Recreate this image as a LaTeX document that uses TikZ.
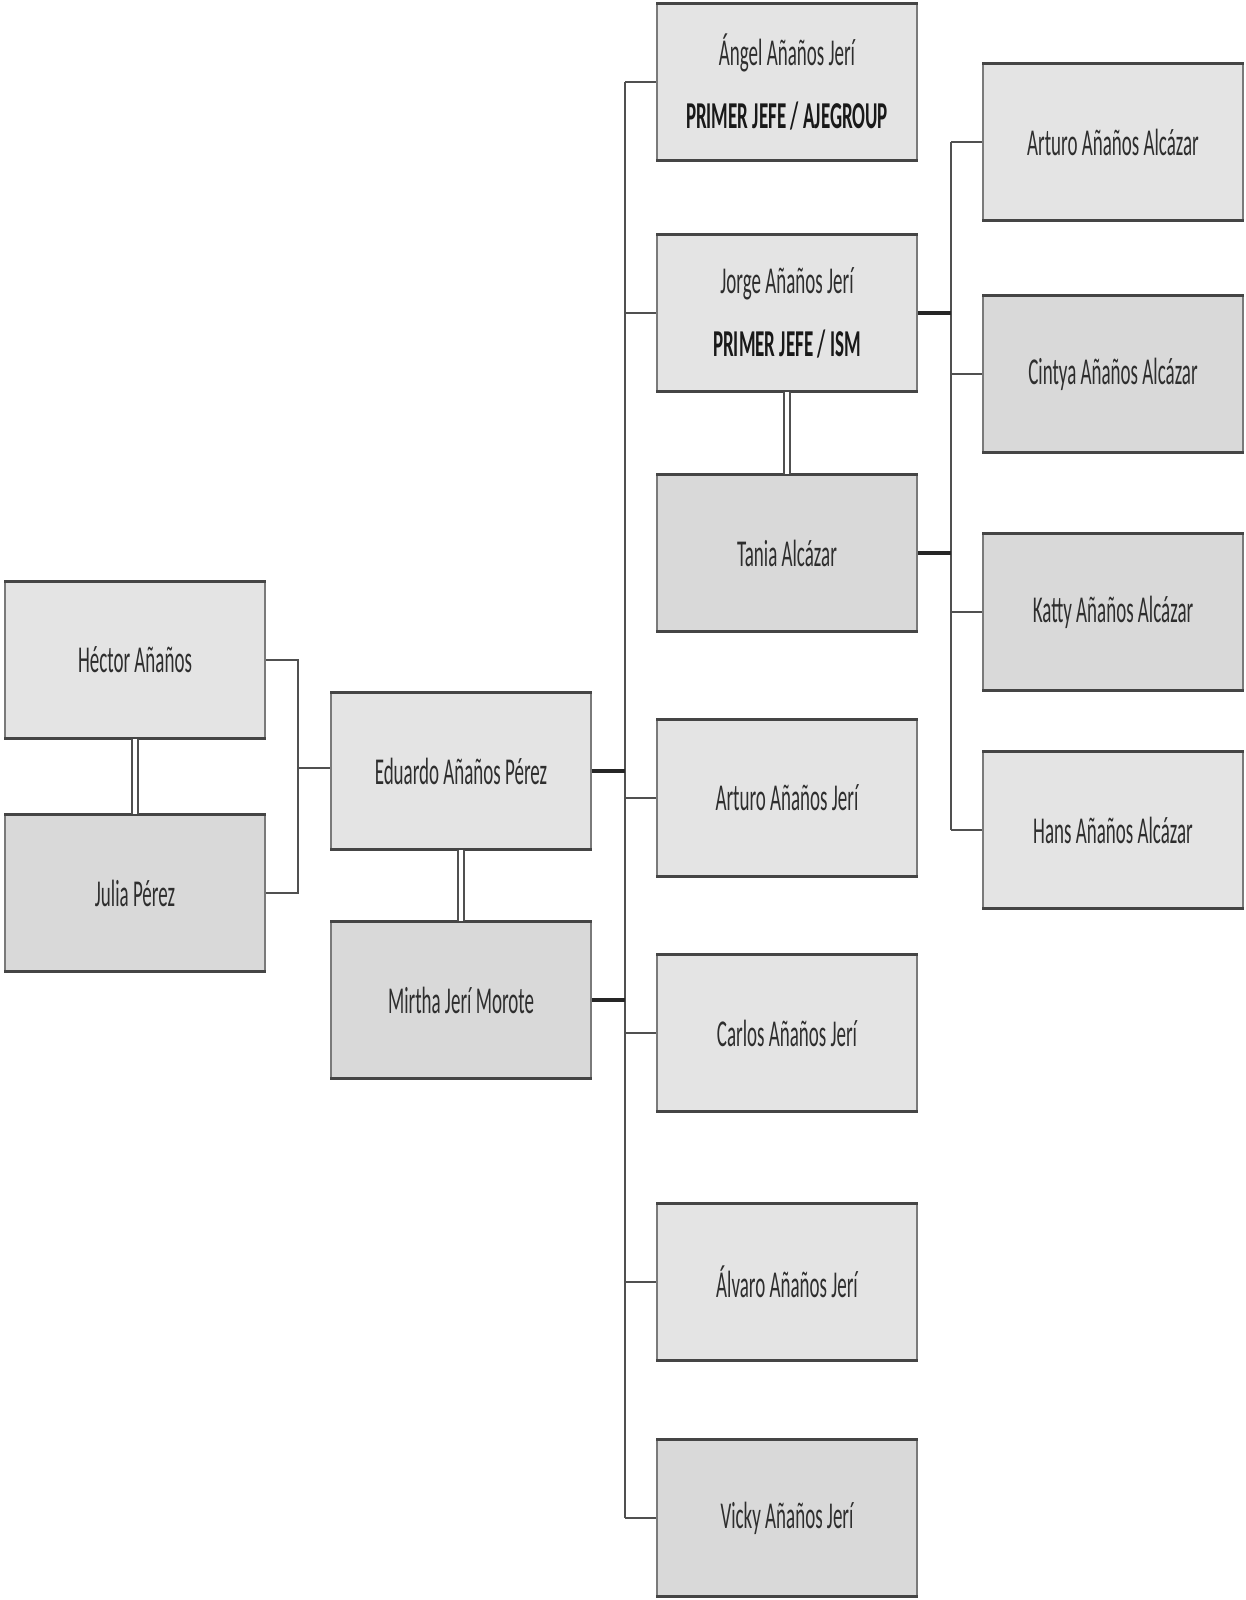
\documentclass[tikz,border=0pt]{standalone}
\usepackage{fontspec}
\setmainfont{Carlito}[FakeStretch=0.5]
\definecolor{boxlight}{HTML}{E4E4E4}
\definecolor{boxdark}{HTML}{D9D9D9}
\definecolor{edgecol}{HTML}{454545}
\definecolor{sidecol}{HTML}{7A7A7A}
\definecolor{txtcol}{HTML}{2E2E2E}
\definecolor{linecol}{HTML}{505050}
\begin{document}
\begin{tikzpicture}[x=0.01cm,y=-0.01cm,
  person/.style={rectangle, draw=sidecol, line width=0.45pt,
    minimum width=2.6cm, minimum height=1.56cm, inner sep=0pt,
    align=center, text=txtcol,
    font=\fontsize{10.8}{17}\selectfont},
  light/.style={person, fill=boxlight},
  dark/.style={person, fill=boxdark},
  rim/.style={draw=edgecol, line width=0.9pt},
  conn/.style={draw=linecol, line width=0.5pt},
  stub/.style={draw=black!85, line width=1.1pt},
  couple/.style={draw=linecol, line width=0.5pt, double=white, double distance=1.3pt}]
\useasboundingbox (0,0) rectangle (1246,1600);

% first generation
\node[light] (hector) at (135,660) {Héctor Añaños};
\node[dark]  (julia)  at (135,893) {Julia Pérez};

% second generation
\node[light] (eduardo) at (461,771) {Eduardo Añaños Pérez};
\node[dark]  (mirtha)  at (461,1000) {Mirtha Jerí Morote};

% third generation
\node[light] (angel)   at (787,82)   {Ángel Añaños Jerí\\[1pt]\textbf{\color{black!90}PRIMER JEFE / AJEGROUP}};
\node[light] (jorge)   at (787,313)  {Jorge Añaños Jerí\\[1pt]\textbf{\color{black!90}PRIMER JEFE / ISM}};
\node[dark]  (tania)   at (787,553)  {Tania Alcázar};
\node[light] (arturoj) at (787,798)  {Arturo Añaños Jerí};
\node[light] (carlos)  at (787,1033) {Carlos Añaños Jerí};
\node[light] (alvaro)  at (787,1282) {Álvaro Añaños Jerí};
\node[dark]  (vicky)   at (787,1518) {Vicky Añaños Jerí};

% fourth generation
\node[light] (arturoa) at (1113,142) {Arturo Añaños Alcázar};
\node[dark]  (cintya)  at (1113,374) {Cintya Añaños Alcázar};
\node[dark]  (katty)   at (1113,612) {Katty Añaños Alcázar};
\node[light] (hans)    at (1113,830) {Hans Añaños Alcázar};

% heavier top and bottom rims of every box
\foreach \n in {hector,julia,eduardo,mirtha,angel,jorge,tania,arturoj,carlos,alvaro,vicky,arturoa,cintya,katty,hans}{
  \draw[rim] (\n.north west) -- (\n.north east);
  \draw[rim] (\n.south west) -- (\n.south east);
}

% marriages
\draw[couple] (hector.south) -- (julia.north);
\draw[couple] (eduardo.south) -- (mirtha.north);
\draw[couple] (jorge.south) -- (tania.north);

% Héctor + Julia -> Eduardo
\coordinate (j1) at (298,768);
\draw[conn] (hector.east) -| (j1);
\draw[conn] (julia.east) -| (j1);
\draw[conn] (j1) -- (eduardo.west |- j1);

% Eduardo + Mirtha -> children
\coordinate (b2top) at (625,82);
\coordinate (b2bot) at (625,1518);
\draw[conn] (b2top) -- (b2bot);
\draw[stub] (eduardo.east) -- (eduardo.east -| b2top);
\draw[stub] (mirtha.east) -- (mirtha.east -| b2top);
\foreach \c in {angel,jorge,arturoj,carlos,alvaro,vicky}{
  \draw[conn] (\c.west -| b2top) -- (\c.west);
}

% Jorge + Tania -> children
\coordinate (b3top) at (951,142);
\coordinate (b3bot) at (951,830);
\draw[conn] (b3top) -- (b3bot);
\draw[stub] (jorge.east) -- (jorge.east -| b3top);
\draw[stub] (tania.east) -- (tania.east -| b3top);
\foreach \c in {arturoa,cintya,katty,hans}{
  \draw[conn] (\c.west -| b3top) -- (\c.west);
}
\end{tikzpicture}
\end{document}
